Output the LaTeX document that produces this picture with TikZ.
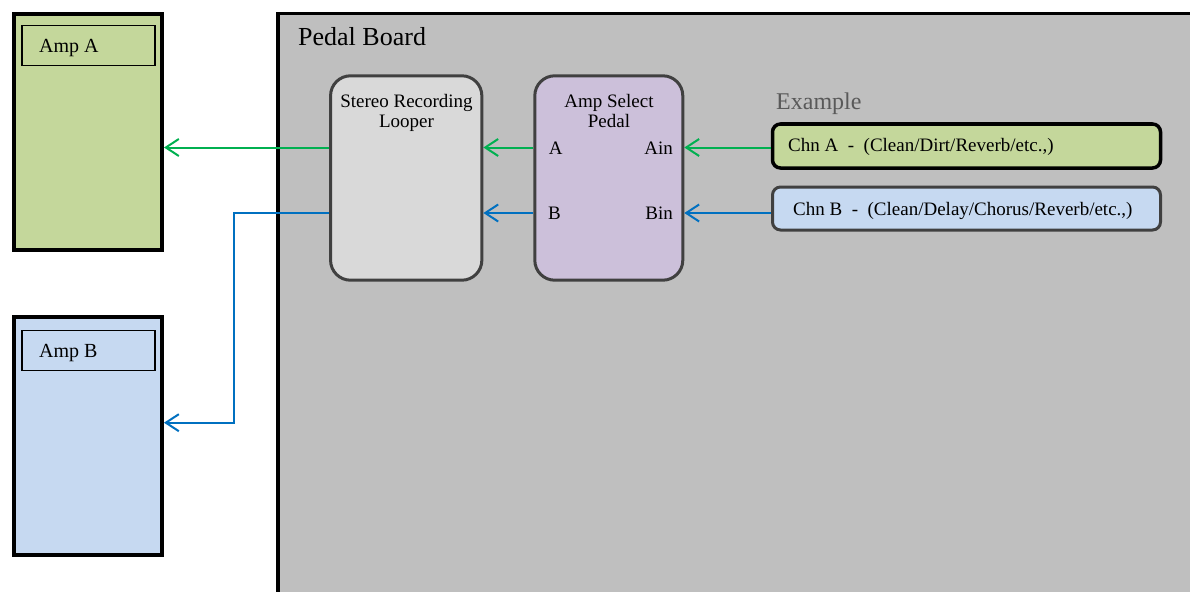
\documentclass[tikz,border=0pt]{standalone}
\usepackage{fontspec}
\setmainfont{Liberation Serif}
\usetikzlibrary{arrows.meta}
\definecolor{ampgreen}{HTML}{C4D79B}
\definecolor{ampblue}{HTML}{C6D9F1}
\definecolor{boardgray}{HTML}{BFBFBF}
\definecolor{loopgray}{HTML}{D9D9D9}
\definecolor{pedalpurple}{HTML}{CCC0DA}
\definecolor{edgegray}{HTML}{404040}
\definecolor{wiregreen}{HTML}{00B050}
\definecolor{wireblue}{HTML}{0070C0}
\definecolor{exgray}{HTML}{595959}
\begin{document}
\begin{tikzpicture}[x=1pt,y=-1pt,
  ampbox/.style={draw=black, line width=4pt, rectangle, minimum width=148pt, inner sep=0pt},
  labelbox/.style={draw=black, line width=1.5pt, rectangle, minimum width=132.6pt, minimum height=40pt, inner sep=0pt},
  unitbox/.style={draw=edgegray, line width=3pt, rectangle, rounded corners=20pt, minimum height=204.4pt, inner sep=0pt},
  chnbox/.style={rectangle, rounded corners=8pt, minimum width=388pt, inner sep=0pt},
  txt/.style={font=\fontsize{19}{20}\selectfont, inner sep=0pt, text=black},
  wire/.style={line width=2pt, -{Straight Barb[length=13pt,width=17pt]}},
]
\useasboundingbox (0,0) rectangle (1190,591);
% pedal board
\node[draw=black, fill=boardgray, line width=3.5pt, rectangle, minimum width=960pt, minimum height=620pt, anchor=north west, inner sep=0pt] (board) at (276,11.7) {};
\node[font=\fontsize{26}{28}\selectfont, inner sep=0pt, anchor=base west] (boardlabel) at (298,46) {Pedal Board};
% amps
\node[ampbox, fill=ampgreen, minimum height=236.3pt] (ampA) at (88,132) {};
\node[labelbox] (ampAlbl) at (88.5,45.5) {};
\node[txt, font=\fontsize{20}{21}\selectfont, anchor=base west] (ampAtxt) at (39,53) {Amp A};
\node[ampbox, fill=ampblue, minimum height=237.7pt] (ampB) at (88,436) {};
\node[labelbox] (ampBlbl) at (88.5,350.3) {};
\node[txt, font=\fontsize{20}{21}\selectfont, anchor=base west] (ampBtxt) at (39,357) {Amp B};
% looper and amp select
\node[unitbox, fill=loopgray, minimum width=151.3pt] (looper) at (406.2,178) {};
\node[txt, align=center, anchor=base] (loopertxt) at (406.5,128) {Stereo Recording\\Looper};
\node[unitbox, fill=pedalpurple, minimum width=148pt] (asp) at (608.8,178) {};
\node[txt, align=center, anchor=base] (asptxt) at (609,128) {Amp Select\\Pedal};
\node[txt, anchor=base west] (aout) at (548.7,154) {A};
\node[txt, anchor=base east] (ain) at (673,154) {Ain};
\node[txt, anchor=base west] (bout) at (548,219) {B};
\node[txt, anchor=base east] (bin) at (673,219) {Bin};
% example chains
\node[font=\fontsize{24}{26}\selectfont, text=exgray, inner sep=0pt, anchor=base west] (example) at (776,110) {Example};
\node[chnbox, draw=black, line width=3.5pt, fill=ampgreen, minimum height=44pt] (chnA) at (966.5,146) {};
\node[txt, anchor=base west] (chnAtxt) at (788,151.7) {Chn A\ \ -\ \ (Clean/Dirt/Reverb/etc.,)};
\node[chnbox, draw=edgegray, line width=3pt, fill=ampblue, minimum height=43pt] (chnB) at (966.5,208.5) {};
\node[txt, anchor=base west] (chnBtxt) at (793,215) {Chn B\ \ -\ \ (Clean/Delay/Chorus/Reverb/etc.,)};
% wires
\coordinate (gy) at (0,147.5);
\coordinate (by) at (0,213);
\coordinate (bx) at (234.3,0);
\coordinate (bb) at (0,422.7);
\draw[wire, wiregreen] (chnA.west |- gy) -- (asp.east |- gy);
\draw[wire, wiregreen] (asp.west |- gy) -- (looper.east |- gy);
\draw[wire, wiregreen] (looper.west |- gy) -- (ampA.east |- gy);
\draw[wire, wireblue] (chnB.west |- by) -- (asp.east |- by);
\draw[wire, wireblue] (asp.west |- by) -- (looper.east |- by);
\draw[wire, wireblue] (looper.west |- by) -- (bx |- by) -- (bx |- bb) -- (ampB.east |- bb);
\end{tikzpicture}
\end{document}
